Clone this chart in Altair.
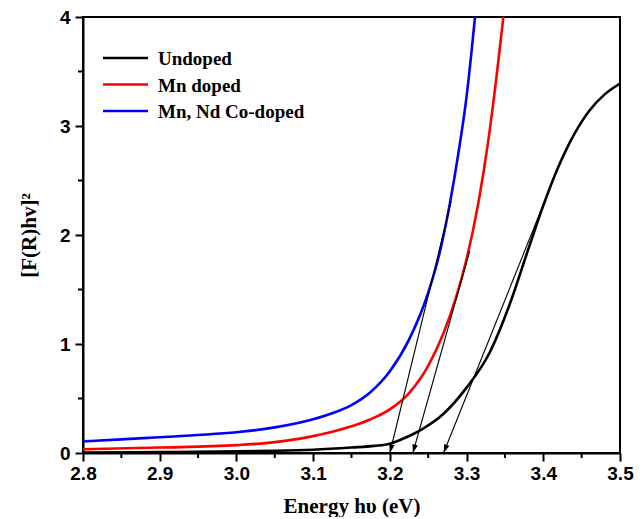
import math
import altair as alt
import pandas as pd

SERIES = ["Undoped", "Mn doped", "Mn, Nd Co-doped"]
COLORS = ["#000000", "#ff0000", "#0000ff"]

undoped_x = [2.80, 2.90, 3.00, 3.05, 3.10, 3.15, 3.18, 3.20, 3.22, 3.24, 3.27, 3.30, 3.33, 3.356, 3.38, 3.40, 3.42, 3.44, 3.46, 3.48, 3.50]
undoped_y = [0.005, 0.008, 0.015, 0.02, 0.03, 0.05, 0.065, 0.085, 0.14, 0.21, 0.36, 0.60, 0.92, 1.36, 1.86, 2.27, 2.63, 2.92, 3.14, 3.29, 3.39]

mn_x = [2.80, 2.90, 3.00, 3.05, 3.10, 3.125, 3.15, 3.175, 3.20, 3.225, 3.25, 3.27, 3.285, 3.30, 3.315, 3.328, 3.339, 3.348]
mn_y = [0.035, 0.05, 0.072, 0.10, 0.155, 0.195, 0.245, 0.31, 0.40, 0.55, 0.80, 1.10, 1.40, 1.78, 2.28, 2.85, 3.45, 4.0]

co_x = [2.80, 2.85, 2.90, 2.95, 3.00, 3.05, 3.10, 3.125, 3.15, 3.175, 3.20, 3.225, 3.25, 3.265, 3.278, 3.29, 3.30, 3.311]
co_y = [0.107, 0.125, 0.145, 0.165, 0.19, 0.235, 0.31, 0.365, 0.44, 0.56, 0.75, 1.04, 1.47, 1.84, 2.28, 2.78, 3.27, 4.0]

# tangent lines (from x-intercept up to upper point)
tan_series = ["Undoped", "Mn doped", "Mn, Nd Co-doped"]
tan_x0 = [3.27, 3.23, 3.20]
tan_y0 = [0.0, 0.0, 0.0]
tan_x1 = [3.412, 3.304, 3.280]
tan_y1 = [2.49, 1.85, 2.31]

X_TICKS = [2.8, 2.9, 3.0, 3.1, 3.2, 3.3, 3.4, 3.5]
Y_TICKS = [0, 1, 2, 3, 4]
X_MINOR = [2.85, 2.95, 3.05, 3.15, 3.25, 3.35, 3.45]
Y_MINOR = [0.5, 1.5, 2.5, 3.5]

X_DOMAIN = [2.8, 3.5]
Y_DOMAIN = [0, 4]
W, H = 537, 436

rows = []
for name, xs_, ys_ in [(SERIES[0], undoped_x, undoped_y), (SERIES[1], mn_x, mn_y), (SERIES[2], co_x, co_y)]:
    for x, y in zip(xs_, ys_):
        rows.append({"series": name, "x": x, "y": y})
curves = pd.DataFrame(rows)

px_per_x = W / (X_DOMAIN[1] - X_DOMAIN[0])
px_per_y = H / (Y_DOMAIN[1] - Y_DOMAIN[0])
tan = pd.DataFrame({"series": tan_series, "x0": tan_x0, "y0": tan_y0, "x1": tan_x1, "y1": tan_y1})

xs = alt.Scale(domain=X_DOMAIN, nice=False, zero=False)
ys = alt.Scale(domain=Y_DOMAIN, nice=False, zero=False)

X_TITLE = "Energy hυ (eV)"
Y_TITLE = "[F(R)hv]²"

xaxis = alt.Axis(values=X_TICKS, format=".1f", grid=False, labelFlush=False,
                 labelFont="Liberation Sans", labelFontWeight="bold", labelFontSize=19, labelColor="black",
                 labelPadding=3, tickSize=8, tickWidth=2, tickColor="black",
                 domainColor="black", domainWidth=2,
                 titleFont="Liberation Serif", titleFontWeight="bold", titleFontSize=21,
                 titleColor="black", titlePadding=12)
yaxis = alt.Axis(values=Y_TICKS, format="d", grid=False, labelFlush=False,
                 labelFont="Liberation Sans", labelFontWeight="bold", labelFontSize=19, labelColor="black",
                 labelPadding=5, tickSize=8, tickWidth=2, tickColor="black",
                 domainColor="black", domainWidth=2,
                 titleFont="Liberation Serif", titleFontWeight="bold", titleFontSize=21,
                 titleColor="black", titlePadding=20)

color = alt.Color("series:N", scale=alt.Scale(domain=SERIES, range=COLORS), legend=None)

lines = alt.Chart(curves).mark_line(strokeWidth=2.6, interpolate="monotone", clip=True).encode(
    x=alt.X("x:Q", scale=xs, axis=xaxis, title=X_TITLE),
    y=alt.Y("y:Q", scale=ys, axis=yaxis, title=Y_TITLE),
    color=color,
    detail="series:N",
)

tlines = alt.Chart(tan).mark_rule(color="black", strokeWidth=1.1).encode(
    x=alt.X("x0:Q", scale=xs, axis=xaxis, title=X_TITLE),
    y=alt.Y("y0:Q", scale=ys, axis=yaxis, title=Y_TITLE),
    x2="x1:Q",
    y2="y1:Q",
)

ymin = alt.Chart(pd.DataFrame({"v": Y_MINOR})).mark_rule(color="black", strokeWidth=2).encode(
    y=alt.Y("v:Q", scale=ys, axis=yaxis, title=Y_TITLE),
    x=alt.value(-5), x2=alt.value(0),
)
xmin = alt.Chart(pd.DataFrame({"v": X_MINOR})).mark_rule(color="black", strokeWidth=2).encode(
    x=alt.X("v:Q", scale=xs, axis=xaxis, title=X_TITLE),
    y=alt.value(H), y2=alt.value(H + 5),
)

layers = [lines, tlines, ymin, xmin]

# arrowheads: narrow filled triangle with its tip at the path origin, rotated along each tangent
HEAD_PATH = "M0,0L-0.32,-1L0.32,-1Z"
for a0, b0, a1, b1 in zip(tan_x0, tan_y0, tan_x1, tan_y1):
    dxp = (a1 - a0) * px_per_x
    dyp = (b1 - b0) * px_per_y
    ang = math.degrees(math.atan2(dxp, dyp))
    hd = pd.DataFrame({"hx": [a0], "hy": [b0]})
    layers.append(alt.Chart(hd).mark_point(shape=HEAD_PATH, filled=True, size=300, angle=ang,
                                           color="black", fill="black", opacity=1, strokeWidth=0).encode(
        x=alt.X("hx:Q", scale=xs, axis=xaxis, title=X_TITLE),
        y=alt.Y("hy:Q", scale=ys, axis=yaxis, title=Y_TITLE),
    ))

one = pd.DataFrame({"a": [0]})
for i, (name, col) in enumerate(zip(SERIES, COLORS)):
    ypix = 41 + 26.5 * i
    layers.append(alt.Chart(one).mark_rule(color=col, strokeWidth=2.6).encode(
        x=alt.value(20), x2=alt.value(65), y=alt.value(ypix)))
    layers.append(alt.Chart(one).mark_text(align="left", baseline="middle", font="Liberation Serif",
                                           fontWeight="bold", fontSize=19, color="black").encode(
        x=alt.value(75), y=alt.value(ypix + 1), text=alt.value(name)))

chart = alt.layer(*layers).properties(
    width=W, height=H,
    autosize=alt.AutoSizeParams(type="none"),
    padding={"left": 75, "top": 9, "right": 16, "bottom": 64},
).configure_view(stroke="black", strokeWidth=2)

chart.save("out.html", embed_options={"renderer": "svg", "actions": False})
